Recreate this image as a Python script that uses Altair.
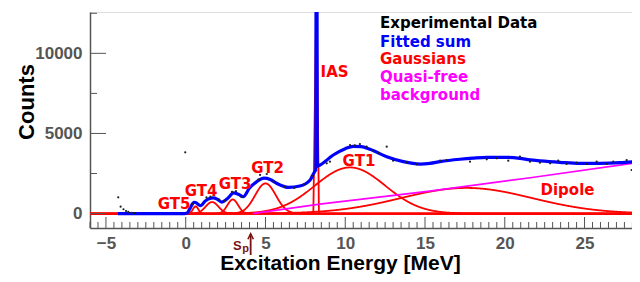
import altair as alt
import pandas as pd
import numpy as np

# ---------------- data ----------------
# Fitted sum (blue)
fit_E = [-4.25, -0.05, 0.1, 0.27, 0.52, 0.62, 0.8, 0.95, 1.2, 1.45, 1.73, 2.0, 2.25,
         2.6, 3.0, 3.3, 3.6, 4.0, 4.4, 4.9, 5.3, 5.7, 6.45, 7.15, 7.8, 8.1, 8.15,
         8.2, 8.25, 8.42, 9.25, 10.0, 10.5, 11.0, 11.55, 12.6, 13.64, 14.69, 15.3,
         15.94, 17.19, 18.0, 18.87, 20.1, 20.95, 21.58, 22.21, 23.46, 24.72, 25.97,
         27.22, 28.06]
fit_C = [0, 0, 40, 330, 700, 690, 560, 500, 760, 930, 980, 880, 720,
         920, 1290, 1200, 1050, 1600, 1950, 2210, 2130, 1890, 1630, 1720, 2100, 2650, 2720,
         40000, 2950, 3030, 3655, 4050, 4200, 4180, 4010, 3550, 3240, 3090, 3130,
         3240, 3390, 3460, 3510, 3510, 3450, 3350, 3290, 3200, 3136, 3136,
         3175, 3237]

# Experimental data points (black dots)
exp_E = [-4.23, -4.08, -3.9, -3.74, -3.6, -3.4, -3.2, -0.03,
         0.45, 1.3, 1.55, 2.1, 2.45, 2.9, 3.15, 3.5, 4.55, 4.66, 5.08, 5.5, 6.2,
         6.8, 7.4, 7.9, 8.84, 9.04, 10.3, 10.6, 10.92, 11.34, 11.76, 12.07, 12.6,
         13.0, 13.85, 14.48, 15.94, 16.36, 17.82, 18.87, 19.5, 20.22, 20.95,
         21.58, 22.2, 22.84, 23.35, 23.87, 24.5, 25.13, 25.76, 26.39, 26.8,
         27.64, 27.95]
exp_C = [1015, 430, 270, 160, 100, 50, 30, 3820,
         620, 1010, 1060, 870, 800, 1350, 1400, 1040, 2120, 2410, 2470, 2000, 1660,
         1600, 1820, 2350, 3137, 3240, 4280, 4250, 4340, 4175, 3925, 3800, 4175,
         3300, 3200, 3075, 3300, 3340, 3240, 3390, 3450, 3300, 3550,
         3240, 3175, 3136, 3300, 3094, 3175, 3094, 3240, 3094, 3240,
         3340, 2720]

# Gaussian components (red): centre [MeV], sigma [MeV], amplitude [counts]
g_names = ["GT5", "GT4", "GT3", "GT2", "GT1", "Dipole"]
g_center = [0.62, 1.65, 2.95, 5.0, 10.3, 17.6]
g_sigma = [0.17, 0.40, 0.33, 0.65, 2.2, 4.1]
g_amp = [450, 720, 880, 1880, 2880, 1600]

# IAS peak (red, coarse) as drawn
ias_E = [-6.0, 8.0, 8.2, 8.35, 28.05]
ias_C = [0, 0, 14500, 0, 0]

# Quasi-free background (magenta)
qf_E = [4.2, 8.4, 15.3, 21.6, 28.05]
qf_C = [0, 590, 1400, 2240, 3140]

# Labels
lab_text = ["IAS", "GT5", "GT4", "GT3", "GT2", "GT1", "Dipole"]
lab_E = [9.33, -0.73, 0.96, 3.09, 5.13, 10.86, 23.93]
lab_C = [8523, 285, 1097, 1533, 2551, 2969, 1159]

leg_text = ["Experimental Data", "Fitted sum", "Gaussians", "Quasi-free", "background"]
leg_color = ["#000000", "#0000ff", "#ff0000", "#ff00ff", "#ff00ff"]

x_major = [-5, 0, 5, 10, 15, 20, 25]
y_major = [0, 5000, 10000]
y_minor = [2500, 7500, 12500]
sp_E = 4.07

# ---------------- build ----------------
X_DOM = [-6, 28.1]
Y_DOM = [-900, 12580]
W, H = 544, 216
xs = alt.Scale(domain=X_DOM, nice=False, zero=False)
ys = alt.Scale(domain=Y_DOM, nice=False, zero=False)

grid = np.round(np.arange(-6.0, 28.05 + 1e-9, 0.02), 3)
rows = []
for n, c, s, a in zip(g_names, g_center, g_sigma, g_amp):
    vals = a * np.exp(-(grid - c) ** 2 / (2 * s * s))
    rows.append(pd.DataFrame({"E": grid, "C": vals, "curve": n}))
rows.append(pd.DataFrame({"E": ias_E, "C": ias_C, "curve": "IAS"}))
gauss_df = pd.concat(rows, ignore_index=True)

fit_df = pd.DataFrame({"E": fit_E, "C": fit_C})
exp_df = pd.DataFrame({"E": exp_E, "C": exp_C})
qf_df = pd.DataFrame({"E": qf_E, "C": qf_C})
lab_df = pd.DataFrame({"t": lab_text, "E": lab_E, "C": lab_C})

minor_x = [v / 2 for v in range(-12, 57) if (v / 2) not in x_major]
xt_major = pd.DataFrame({"E": x_major})
xt_minor = pd.DataFrame({"E": minor_x})
yt_major = pd.DataFrame({"C": y_major})
yt_minor = pd.DataFrame({"C": y_minor})

GREY = "#555555"
LABFONT = "Liberation Sans"

x_axis = alt.Axis(values=x_major, grid=False, ticks=False, tickSize=0, domain=True,
                  domainColor=GREY, domainWidth=1.5, labelFont=LABFONT, labelFontSize=17,
                  labelFontWeight="bold", labelColor=GREY, labelPadding=7,
                  title="Excitation Energy [MeV]", titleFont=LABFONT, titleFontSize=21,
                  titleFontWeight="bold", titleColor="black", titleX=250, titleY=41,
                  titleAlign="center", titleBaseline="alphabetic")
y_axis = alt.Axis(values=y_major, format="d", grid=False, ticks=False, tickSize=0,
                  domain=True, domainColor=GREY, domainWidth=1.5, labelFont=LABFONT,
                  labelFontSize=17, labelFontWeight="bold", labelColor=GREY,
                  labelPadding=8, title="Counts", titleFont=LABFONT, titleFontSize=22,
                  titleFontWeight="bold", titleColor="black", titleX=-57, titleY=89.5,
                  titleAlign="center", titleBaseline="alphabetic", titleAngle=-90)

red = alt.Chart(gauss_df).mark_line(color="#ff0000", strokeWidth=1.8, clip=True).encode(
    x=alt.X("E:Q", scale=xs, axis=x_axis),
    y=alt.Y("C:Q", scale=ys, axis=y_axis),
    detail="curve:N",
    order="E:Q",
)
qf = alt.Chart(qf_df).mark_line(color="#ff00ff", strokeWidth=1.6, clip=True).encode(
    x=alt.X("E:Q", scale=xs), y=alt.Y("C:Q", scale=ys))
fit = alt.Chart(fit_df).mark_line(color="#0000ff", strokeWidth=3.2, clip=True,
                                  interpolate="monotone").encode(
    x=alt.X("E:Q", scale=xs), y=alt.Y("C:Q", scale=ys))
dots = alt.Chart(exp_df).mark_circle(color="#222222", size=5, opacity=1).encode(
    x=alt.X("E:Q", scale=xs), y=alt.Y("C:Q", scale=ys))

xtM = alt.Chart(xt_major).mark_rule(color=GREY, strokeWidth=1).encode(
    x=alt.X("E:Q", scale=xs), y=alt.value(H - 11), y2=alt.value(H))
xtm = alt.Chart(xt_minor).mark_rule(color=GREY, strokeWidth=1).encode(
    x=alt.X("E:Q", scale=xs), y=alt.value(H - 6), y2=alt.value(H))
ytM = alt.Chart(yt_major).mark_rule(color=GREY, strokeWidth=1).encode(
    y=alt.Y("C:Q", scale=ys), x=alt.value(0), x2=alt.value(16))
ytm = alt.Chart(yt_minor).mark_rule(color=GREY, strokeWidth=1).encode(
    y=alt.Y("C:Q", scale=ys), x=alt.value(0), x2=alt.value(7))

labels = alt.Chart(lab_df).mark_text(font="DejaVu Sans", fontSize=15, fontWeight="bold",
                                     color="#ff0000", align="center",
                                     baseline="alphabetic").encode(
    x=alt.X("E:Q", scale=xs), y=alt.Y("C:Q", scale=ys), text="t:N")

# legend: one text mark per entry, placed in pixels
leg_baselines = [16.3, 34.7, 52.3, 70.3, 88.0]
legend_layers = []
for t, col, yb in zip(leg_text, leg_color, leg_baselines):
    legend_layers.append(
        alt.Chart(pd.DataFrame({"t": [t]})).mark_text(
            font="DejaVu Sans", fontSize=15, fontWeight="bold", align="left",
            baseline="alphabetic", color=col).encode(
            x=alt.value(290), y=alt.value(yb), text="t:N"))

SP = "#7a1212"
sp_df = pd.DataFrame({"E": [sp_E]})
sp_rule = alt.Chart(sp_df).mark_rule(color=SP, strokeWidth=1.8).encode(
    x=alt.X("E:Q", scale=xs), y=alt.value(222), y2=alt.value(243))
sp_head = alt.Chart(sp_df).mark_point(shape="M-1,1L0,-1L1,1", filled=False, color=SP,
                                      strokeWidth=1.6, size=30, opacity=1).encode(
    x=alt.X("E:Q", scale=xs), y=alt.value(224.5))
sp_s = alt.Chart(pd.DataFrame({"E": [3.5], "t": ["S"]})).mark_text(
    font=LABFONT, fontSize=13, fontWeight="bold", color=SP, align="right",
    baseline="alphabetic").encode(x=alt.X("E:Q", scale=xs), y=alt.value(238), text="t:N")
sp_p = alt.Chart(pd.DataFrame({"E": [3.55], "t": ["p"]})).mark_text(
    font=LABFONT, fontSize=11, fontWeight="bold", color=SP, align="left",
    baseline="alphabetic").encode(x=alt.X("E:Q", scale=xs), y=alt.value(239.5), text="t:N")

chart = alt.layer(red, qf, fit, dots, xtM, xtm, ytM, ytm, labels, *legend_layers,
                  sp_rule, sp_head, sp_s, sp_p).properties(
    width=W, height=H,
    autosize=alt.AutoSizeParams(type="none"),
    padding={"left": 82, "top": 4, "right": -2, "bottom": 46},
).configure_view(stroke=None).configure(background="white")

chart.save("out.html", embed_options={"renderer": "svg", "actions": False})
